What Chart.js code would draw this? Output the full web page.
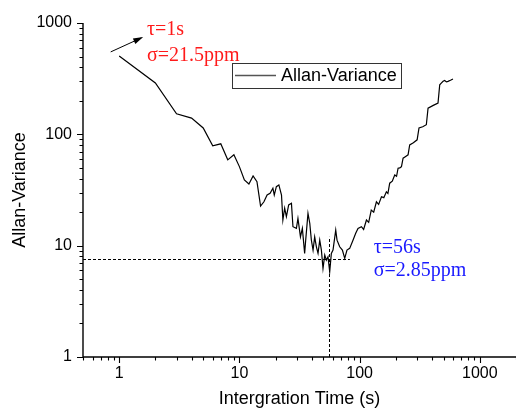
<!DOCTYPE html>
<html>
<head>
<meta charset="utf-8">
<script src="https://cdn.jsdelivr.net/npm/chart.js@4"></script>
<style>
html,body{margin:0;padding:0;background:#fff;}
canvas{display:block;}
</style>
</head>
<body>
<canvas id="c" width="516" height="409" style="width:516px;height:409px"></canvas>
<script>
// ---- data ----
const tau = [1,2,3,4,5,6,7,8,9,10,11,12,13,14,15,16,17,18,19,19.5,20.3,21.3,22.4,23,23.8,24.6,25.7,27.1,27.9,29.8,30.7,32.2,33.4,34.9,35.6,37.2,38.5,39.7,41,42.3,43.7,45.1,46.6,48.1,49.6,51.3,52.9,54.6,56.4,58.2,60.1,63.3,64.9,68.3,71.9,75.2,78.5,82.7,88.1,92.8,97,103.5,108,114,119,125,131,138,144,152,159,167,172,178,187,196,203,209,216,223,230,240,253,261,280,301,312,335,359,371,410,449,464,480,495,510,528,544,570,598];
const allanVar = [505,289,153,140,114,78.8,82.2,59,65.5,51.3,38.9,35.8,42.3,37.6,22.7,24.8,28.5,29.6,32.8,28.5,33.9,35.1,28.5,17.0,21.7,18.2,23.2,24.0,14.8,14.3,17.6,12.0,14.3,8.53,11.2,19.5,15.9,11.2,9.12,12.0,9.77,8.53,11.2,9.12,6.25,8.23,7.42,7.94,5.82,8.53,9.12,13.8,11.2,9.77,9.12,7.69,9.12,9.46,11.2,12.9,14.3,14.8,14.0,17.0,16.2,20.9,20.0,24.8,23.5,27.5,27.0,30.5,29.5,36.4,38,43.2,42,49.6,50,51.3,61.1,63,65.5,80.4,84,89.3,114,117,122,172,182,191,279,290,300,305,296,299,306,314];
const xMajor = [1,10,100,1000];
const yMajor = [1,10,100,1000];
const seriesLabel = 'Allan-Variance';
const xTitle = 'Intergration Time (s)';
const yTitle = 'Allan-Variance';
const optTau = 56, optVar = 7.55;
const note1 = ['\u03c4=1s','\u03c3=21.5ppm'];
const note2 = ['\u03c4=56s','\u03c3=2.85ppm'];

// annotation anchors (data units)
const ann = {
  arrowFrom:{x:0.85,y:550}, arrowTo:{x:1.53,y:735},
  n1:{x:1.70,y:786,y2:460},
  n2:{x:131,y:8.57,y2:5.32},
  hEnd:83, vTop:12.0
};

const SANS = '"Liberation Sans", Arial, sans-serif';
const SERIF = '"Liberation Serif", "Times New Roman", serif';

const extras = {
  id:'extras',
  afterDraw(chart){
    const ctx = chart.ctx, xs = chart.scales.x, ys = chart.scales.y, ca = chart.chartArea;
    ctx.save();
    // dashed guide lines
    ctx.strokeStyle = '#000'; ctx.lineWidth = 1; ctx.setLineDash([3,2]);
    const hy = Math.round(ys.getPixelForValue(optVar))+0.5;
    ctx.beginPath(); ctx.moveTo(ca.left, hy); ctx.lineTo(xs.getPixelForValue(ann.hEnd), hy); ctx.stroke();
    const vx = Math.round(xs.getPixelForValue(optTau))+0.5;
    ctx.beginPath(); ctx.moveTo(vx, ca.bottom); ctx.lineTo(vx, ys.getPixelForValue(ann.vTop)); ctx.stroke();
    ctx.setLineDash([]);
    // axes lines
    ctx.lineWidth = 1.4;
    ctx.beginPath();
    ctx.moveTo(ca.left, ca.top); ctx.lineTo(ca.left, ca.bottom); ctx.lineTo(ca.right, ca.bottom);
    ctx.stroke();
    // ticks
    ctx.lineWidth = 1.1;
    const decs = [-1,0,1,2,3];
    ctx.beginPath();
    decs.forEach(d=>{
      for(let k=1;k<=9;k++){
        const v = k*Math.pow(10,d);
        const len = k===1?6:3.5;
        if(v>=xs.min-1e-9 && v<=xs.max+1e-9){
          const px = Math.round(xs.getPixelForValue(v))+0.5;
          ctx.moveTo(px, ca.bottom); ctx.lineTo(px, ca.bottom+len);
        }
        if(v>=ys.min-1e-9 && v<=ys.max+1e-9){
          const py = Math.round(ys.getPixelForValue(v))+0.5;
          ctx.moveTo(ca.left, py); ctx.lineTo(ca.left-len, py);
        }
      }
    });
    ctx.stroke();
    // axis titles
    ctx.fillStyle = '#000';
    ctx.font = '18px '+SANS;
    ctx.textAlign='center'; ctx.textBaseline='middle';
    ctx.fillText(xTitle, (ca.left+ca.right)/2, 399);
    ctx.save();
    ctx.translate(20.5, (ca.top+ca.bottom)/2);
    ctx.rotate(-Math.PI/2);
    ctx.fillText(yTitle, 0, 0);
    ctx.restore();
    // legend
    ctx.strokeStyle = '#333'; ctx.lineWidth = 1;
    ctx.strokeRect(232.5, 63.5, 169, 25);
    ctx.strokeStyle = '#555'; ctx.lineWidth = 1.3;
    ctx.beginPath(); ctx.moveTo(235, 75.5); ctx.lineTo(276, 75.5); ctx.stroke();
    ctx.fillStyle = '#000'; ctx.textAlign='left'; ctx.textBaseline='middle';
    ctx.font = '18px '+SANS;
    ctx.fillText(chart.data.datasets[0].label, 281, 76.5);
    // arrow
    const ax0 = xs.getPixelForValue(ann.arrowFrom.x), ay0 = ys.getPixelForValue(ann.arrowFrom.y);
    const ax1 = xs.getPixelForValue(ann.arrowTo.x), ay1 = ys.getPixelForValue(ann.arrowTo.y);
    ctx.strokeStyle='#000'; ctx.fillStyle='#000'; ctx.lineWidth=1;
    ctx.beginPath(); ctx.moveTo(ax0,ay0); ctx.lineTo(ax1,ay1); ctx.stroke();
    const ang = Math.atan2(ay1-ay0, ax1-ax0);
    ctx.beginPath();
    ctx.moveTo(ax1+2*Math.cos(ang), ay1+2*Math.sin(ang));
    ctx.lineTo(ax1-8*Math.cos(ang)+3*Math.sin(ang), ay1-8*Math.sin(ang)-3*Math.cos(ang));
    ctx.lineTo(ax1-8*Math.cos(ang)-3*Math.sin(ang), ay1-8*Math.sin(ang)+3*Math.cos(ang));
    ctx.closePath(); ctx.fill();
    // notes
    ctx.font = '20px '+SERIF; ctx.textBaseline='alphabetic'; ctx.textAlign='left';
    ctx.fillStyle = '#ff1a1a';
    ctx.fillText(note1[0], xs.getPixelForValue(ann.n1.x), ys.getPixelForValue(ann.n1.y));
    ctx.fillText(note1[1], xs.getPixelForValue(ann.n1.x), ys.getPixelForValue(ann.n1.y2));
    ctx.fillStyle = '#1a1aff';
    ctx.fillText(note2[0], xs.getPixelForValue(ann.n2.x), ys.getPixelForValue(ann.n2.y));
    ctx.fillText(note2[1], xs.getPixelForValue(ann.n2.x), ys.getPixelForValue(ann.n2.y2));
    ctx.restore();
  }
};

new Chart(document.getElementById('c'), {
  type:'line',
  data:{
    datasets:[{
      label: seriesLabel,
      data: tau.map((t,i)=>({x:t, y:allanVar[i]})),
      borderColor:'#000', borderWidth:1.2, pointRadius:0, tension:0, fill:false
    }]
  },
  options:{
    responsive:false, animation:false, devicePixelRatio:1,
    layout:{padding:{top:23, right:0, left:0, bottom:0}},
    plugins:{legend:{display:false}, tooltip:{enabled:false}, title:{display:false}},
    scales:{
      x:{
        type:'logarithmic', min:0.5, max:2000,
        grid:{display:false, drawTicks:false}, border:{display:false},
        afterBuildTicks:s=>{ s.ticks = xMajor.map(v=>({value:v})); },
        afterFit:s=>{ s.height = 52; },
        ticks:{autoSkip:false, maxRotation:0, padding:7, color:'#000',
          font:{family:SANS, size:16}, callback:v=>String(v)}
      },
      y:{
        type:'logarithmic', min:1, max:1000,
        grid:{display:false, drawTicks:false}, border:{display:false},
        afterBuildTicks:s=>{ s.ticks = yMajor.map(v=>({value:v})); },
        afterFit:s=>{ s.width = 83; },
        ticks:{autoSkip:false, padding:11, color:'#000',
          font:{family:SANS, size:16}, callback:v=>String(v)}
      }
    }
  },
  plugins:[extras]
});
</script>
</body>
</html>
